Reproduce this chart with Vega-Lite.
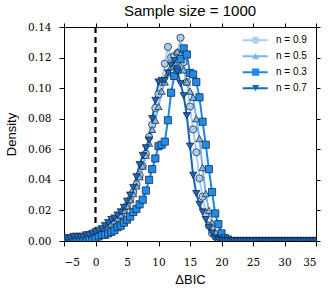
{
"$schema": "https://vega.github.io/schema/vega-lite/v6.json",
"width": 252, "height": 214,
"autosize": {"type": "none"},
"padding": {"left": 64, "top": 27, "right": 16, "bottom": 55},
"background": "white",
"title": {"text": "Sample size = 1000", "font": "Liberation Sans", "fontSize": 15, "fontWeight": "normal", "color": "black", "offset": 3},
"config": {
  "view": {"stroke": "black", "strokeWidth": 1},
  "axis": {"grid": false, "domain": false, "tickColor": "black", "tickSize": 5, "tickWidth": 1, "labelFont": "DejaVu Serif", "labelFontSize": 10.5, "labelColor": "black", "titleFont": "Liberation Sans", "titleFontSize": 13, "titleFontWeight": "normal", "titleColor": "black"}
},
"datasets": {"d": [
{"x":-5,"y":0.001,"n":"n = 0.9"},{"x":-4.5,"y":0.001,"n":"n = 0.9"},{"x":-4,"y":0.001,"n":"n = 0.9"},{"x":-3.5,"y":0.002,"n":"n = 0.9"},{"x":-3,"y":0.002,"n":"n = 0.9"},{"x":-2.5,"y":0.002,"n":"n = 0.9"},{"x":-2,"y":0.002,"n":"n = 0.9"},{"x":-1.5,"y":0.003,"n":"n = 0.9"},{"x":-1,"y":0.003,"n":"n = 0.9"},{"x":-0.5,"y":0.004,"n":"n = 0.9"},{"x":0,"y":0.004,"n":"n = 0.9"},{"x":0.5,"y":0.005,"n":"n = 0.9"},{"x":1,"y":0.006,"n":"n = 0.9"},{"x":1.5,"y":0.007,"n":"n = 0.9"},{"x":2,"y":0.009,"n":"n = 0.9"},{"x":2.5,"y":0.010,"n":"n = 0.9"},{"x":3,"y":0.012,"n":"n = 0.9"},{"x":3.5,"y":0.014,"n":"n = 0.9"},{"x":4,"y":0.017,"n":"n = 0.9"},{"x":4.5,"y":0.020,"n":"n = 0.9"},{"x":5,"y":0.023,"n":"n = 0.9"},{"x":5.5,"y":0.027,"n":"n = 0.9"},{"x":6,"y":0.032,"n":"n = 0.9"},{"x":6.5,"y":0.037,"n":"n = 0.9"},{"x":7,"y":0.043,"n":"n = 0.9"},{"x":7.5,"y":0.049,"n":"n = 0.9"},{"x":8,"y":0.057,"n":"n = 0.9"},{"x":8.5,"y":0.068,"n":"n = 0.9"},{"x":9,"y":0.076,"n":"n = 0.9"},{"x":9.5,"y":0.087,"n":"n = 0.9"},{"x":10,"y":0.096,"n":"n = 0.9"},{"x":10.5,"y":0.104,"n":"n = 0.9"},{"x":11,"y":0.116,"n":"n = 0.9"},{"x":11.5,"y":0.127,"n":"n = 0.9"},{"x":12,"y":0.120,"n":"n = 0.9"},{"x":12.5,"y":0.121,"n":"n = 0.9"},{"x":13,"y":0.123,"n":"n = 0.9"},{"x":13.5,"y":0.133,"n":"n = 0.9"},{"x":14,"y":0.117,"n":"n = 0.9"},{"x":14.5,"y":0.104,"n":"n = 0.9"},{"x":15,"y":0.088,"n":"n = 0.9"},{"x":15.5,"y":0.073,"n":"n = 0.9"},{"x":16,"y":0.058,"n":"n = 0.9"},{"x":16.5,"y":0.041,"n":"n = 0.9"},{"x":17,"y":0.029,"n":"n = 0.9"},{"x":17.5,"y":0.018,"n":"n = 0.9"},{"x":18,"y":0.010,"n":"n = 0.9"},{"x":18.5,"y":0.005,"n":"n = 0.9"},{"x":19,"y":0.003,"n":"n = 0.9"},{"x":19.5,"y":0.001,"n":"n = 0.9"},{"x":20,"y":0.0005,"n":"n = 0.9"},{"x":20.5,"y":0,"n":"n = 0.9"},{"x":21,"y":0,"n":"n = 0.9"},{"x":21.5,"y":0,"n":"n = 0.9"},{"x":22,"y":0,"n":"n = 0.9"},{"x":22.5,"y":0,"n":"n = 0.9"},{"x":23,"y":0,"n":"n = 0.9"},{"x":23.5,"y":0,"n":"n = 0.9"},{"x":24,"y":0,"n":"n = 0.9"},{"x":24.5,"y":0,"n":"n = 0.9"},{"x":25,"y":0,"n":"n = 0.9"},{"x":25.5,"y":0,"n":"n = 0.9"},{"x":26,"y":0,"n":"n = 0.9"},{"x":26.5,"y":0,"n":"n = 0.9"},{"x":27,"y":0,"n":"n = 0.9"},{"x":27.5,"y":0,"n":"n = 0.9"},{"x":28,"y":0,"n":"n = 0.9"},{"x":28.5,"y":0,"n":"n = 0.9"},{"x":29,"y":0,"n":"n = 0.9"},{"x":29.5,"y":0,"n":"n = 0.9"},{"x":30,"y":0,"n":"n = 0.9"},{"x":30.5,"y":0,"n":"n = 0.9"},{"x":31,"y":0,"n":"n = 0.9"},{"x":31.5,"y":0,"n":"n = 0.9"},{"x":32,"y":0,"n":"n = 0.9"},{"x":32.5,"y":0,"n":"n = 0.9"},{"x":33,"y":0,"n":"n = 0.9"},{"x":33.5,"y":0,"n":"n = 0.9"},{"x":34,"y":0,"n":"n = 0.9"},{"x":34.5,"y":0,"n":"n = 0.9"},{"x":35,"y":0,"n":"n = 0.9"},
{"x":-5,"y":0.001,"n":"n = 0.5"},{"x":-4.5,"y":0.001,"n":"n = 0.5"},{"x":-4,"y":0.002,"n":"n = 0.5"},{"x":-3.5,"y":0.002,"n":"n = 0.5"},{"x":-3,"y":0.002,"n":"n = 0.5"},{"x":-2.5,"y":0.002,"n":"n = 0.5"},{"x":-2,"y":0.003,"n":"n = 0.5"},{"x":-1.5,"y":0.003,"n":"n = 0.5"},{"x":-1,"y":0.003,"n":"n = 0.5"},{"x":-0.5,"y":0.004,"n":"n = 0.5"},{"x":0,"y":0.004,"n":"n = 0.5"},{"x":0.5,"y":0.005,"n":"n = 0.5"},{"x":1,"y":0.006,"n":"n = 0.5"},{"x":1.5,"y":0.008,"n":"n = 0.5"},{"x":2,"y":0.009,"n":"n = 0.5"},{"x":2.5,"y":0.011,"n":"n = 0.5"},{"x":3,"y":0.013,"n":"n = 0.5"},{"x":3.5,"y":0.015,"n":"n = 0.5"},{"x":4,"y":0.017,"n":"n = 0.5"},{"x":4.5,"y":0.020,"n":"n = 0.5"},{"x":5,"y":0.023,"n":"n = 0.5"},{"x":5.5,"y":0.027,"n":"n = 0.5"},{"x":6,"y":0.031,"n":"n = 0.5"},{"x":6.5,"y":0.036,"n":"n = 0.5"},{"x":7,"y":0.042,"n":"n = 0.5"},{"x":7.5,"y":0.049,"n":"n = 0.5"},{"x":8,"y":0.056,"n":"n = 0.5"},{"x":8.5,"y":0.064,"n":"n = 0.5"},{"x":9,"y":0.073,"n":"n = 0.5"},{"x":9.5,"y":0.079,"n":"n = 0.5"},{"x":10,"y":0.088,"n":"n = 0.5"},{"x":10.5,"y":0.098,"n":"n = 0.5"},{"x":11,"y":0.104,"n":"n = 0.5"},{"x":11.5,"y":0.110,"n":"n = 0.5"},{"x":12,"y":0.114,"n":"n = 0.5"},{"x":12.5,"y":0.117,"n":"n = 0.5"},{"x":13,"y":0.124,"n":"n = 0.5"},{"x":13.5,"y":0.122,"n":"n = 0.5"},{"x":14,"y":0.112,"n":"n = 0.5"},{"x":14.5,"y":0.104,"n":"n = 0.5"},{"x":15,"y":0.098,"n":"n = 0.5"},{"x":15.5,"y":0.094,"n":"n = 0.5"},{"x":16,"y":0.080,"n":"n = 0.5"},{"x":16.5,"y":0.067,"n":"n = 0.5"},{"x":17,"y":0.048,"n":"n = 0.5"},{"x":17.5,"y":0.031,"n":"n = 0.5"},{"x":18,"y":0.020,"n":"n = 0.5"},{"x":18.5,"y":0.012,"n":"n = 0.5"},{"x":19,"y":0.006,"n":"n = 0.5"},{"x":19.5,"y":0.003,"n":"n = 0.5"},{"x":20,"y":0.001,"n":"n = 0.5"},{"x":20.5,"y":0,"n":"n = 0.5"},{"x":21,"y":0,"n":"n = 0.5"},{"x":21.5,"y":0,"n":"n = 0.5"},{"x":22,"y":0,"n":"n = 0.5"},{"x":22.5,"y":0,"n":"n = 0.5"},{"x":23,"y":0,"n":"n = 0.5"},{"x":23.5,"y":0,"n":"n = 0.5"},{"x":24,"y":0,"n":"n = 0.5"},{"x":24.5,"y":0,"n":"n = 0.5"},{"x":25,"y":0,"n":"n = 0.5"},{"x":25.5,"y":0,"n":"n = 0.5"},{"x":26,"y":0,"n":"n = 0.5"},{"x":26.5,"y":0,"n":"n = 0.5"},{"x":27,"y":0,"n":"n = 0.5"},{"x":27.5,"y":0,"n":"n = 0.5"},{"x":28,"y":0,"n":"n = 0.5"},{"x":28.5,"y":0,"n":"n = 0.5"},{"x":29,"y":0,"n":"n = 0.5"},{"x":29.5,"y":0,"n":"n = 0.5"},{"x":30,"y":0,"n":"n = 0.5"},{"x":30.5,"y":0,"n":"n = 0.5"},{"x":31,"y":0,"n":"n = 0.5"},{"x":31.5,"y":0,"n":"n = 0.5"},{"x":32,"y":0,"n":"n = 0.5"},{"x":32.5,"y":0,"n":"n = 0.5"},{"x":33,"y":0,"n":"n = 0.5"},{"x":33.5,"y":0,"n":"n = 0.5"},{"x":34,"y":0,"n":"n = 0.5"},{"x":34.5,"y":0,"n":"n = 0.5"},{"x":35,"y":0,"n":"n = 0.5"},
{"x":-5,"y":0.001,"n":"n = 0.3"},{"x":-4.5,"y":0.001,"n":"n = 0.3"},{"x":-4,"y":0.001,"n":"n = 0.3"},{"x":-3.5,"y":0.001,"n":"n = 0.3"},{"x":-3,"y":0.001,"n":"n = 0.3"},{"x":-2.5,"y":0.001,"n":"n = 0.3"},{"x":-2,"y":0.001,"n":"n = 0.3"},{"x":-1.5,"y":0.001,"n":"n = 0.3"},{"x":-1,"y":0.002,"n":"n = 0.3"},{"x":-0.5,"y":0.002,"n":"n = 0.3"},{"x":0,"y":0.002,"n":"n = 0.3"},{"x":0.5,"y":0.003,"n":"n = 0.3"},{"x":1,"y":0.004,"n":"n = 0.3"},{"x":1.5,"y":0.004,"n":"n = 0.3"},{"x":2,"y":0.005,"n":"n = 0.3"},{"x":2.5,"y":0.006,"n":"n = 0.3"},{"x":3,"y":0.007,"n":"n = 0.3"},{"x":3.5,"y":0.009,"n":"n = 0.3"},{"x":4,"y":0.010,"n":"n = 0.3"},{"x":4.5,"y":0.012,"n":"n = 0.3"},{"x":5,"y":0.014,"n":"n = 0.3"},{"x":5.5,"y":0.016,"n":"n = 0.3"},{"x":6,"y":0.019,"n":"n = 0.3"},{"x":6.5,"y":0.021,"n":"n = 0.3"},{"x":7,"y":0.024,"n":"n = 0.3"},{"x":7.5,"y":0.027,"n":"n = 0.3"},{"x":8,"y":0.033,"n":"n = 0.3"},{"x":8.5,"y":0.040,"n":"n = 0.3"},{"x":9,"y":0.047,"n":"n = 0.3"},{"x":9.5,"y":0.054,"n":"n = 0.3"},{"x":10,"y":0.062,"n":"n = 0.3"},{"x":10.5,"y":0.063,"n":"n = 0.3"},{"x":11,"y":0.065,"n":"n = 0.3"},{"x":11.5,"y":0.079,"n":"n = 0.3"},{"x":12,"y":0.097,"n":"n = 0.3"},{"x":12.5,"y":0.108,"n":"n = 0.3"},{"x":13,"y":0.112,"n":"n = 0.3"},{"x":13.5,"y":0.119,"n":"n = 0.3"},{"x":14,"y":0.126,"n":"n = 0.3"},{"x":14.5,"y":0.122,"n":"n = 0.3"},{"x":15,"y":0.110,"n":"n = 0.3"},{"x":15.5,"y":0.109,"n":"n = 0.3"},{"x":16,"y":0.104,"n":"n = 0.3"},{"x":16.5,"y":0.094,"n":"n = 0.3"},{"x":17,"y":0.078,"n":"n = 0.3"},{"x":17.5,"y":0.063,"n":"n = 0.3"},{"x":18,"y":0.047,"n":"n = 0.3"},{"x":18.5,"y":0.032,"n":"n = 0.3"},{"x":19,"y":0.018,"n":"n = 0.3"},{"x":19.5,"y":0.011,"n":"n = 0.3"},{"x":20,"y":0.005,"n":"n = 0.3"},{"x":20.5,"y":0.002,"n":"n = 0.3"},{"x":21,"y":0.001,"n":"n = 0.3"},{"x":21.5,"y":0,"n":"n = 0.3"},{"x":22,"y":0,"n":"n = 0.3"},{"x":22.5,"y":0,"n":"n = 0.3"},{"x":23,"y":0,"n":"n = 0.3"},{"x":23.5,"y":0,"n":"n = 0.3"},{"x":24,"y":0,"n":"n = 0.3"},{"x":24.5,"y":0,"n":"n = 0.3"},{"x":25,"y":0,"n":"n = 0.3"},{"x":25.5,"y":0,"n":"n = 0.3"},{"x":26,"y":0,"n":"n = 0.3"},{"x":26.5,"y":0,"n":"n = 0.3"},{"x":27,"y":0,"n":"n = 0.3"},{"x":27.5,"y":0,"n":"n = 0.3"},{"x":28,"y":0,"n":"n = 0.3"},{"x":28.5,"y":0,"n":"n = 0.3"},{"x":29,"y":0,"n":"n = 0.3"},{"x":29.5,"y":0,"n":"n = 0.3"},{"x":30,"y":0,"n":"n = 0.3"},{"x":30.5,"y":0,"n":"n = 0.3"},{"x":31,"y":0,"n":"n = 0.3"},{"x":31.5,"y":0,"n":"n = 0.3"},{"x":32,"y":0,"n":"n = 0.3"},{"x":32.5,"y":0,"n":"n = 0.3"},{"x":33,"y":0,"n":"n = 0.3"},{"x":33.5,"y":0,"n":"n = 0.3"},{"x":34,"y":0,"n":"n = 0.3"},{"x":34.5,"y":0,"n":"n = 0.3"},{"x":35,"y":0,"n":"n = 0.3"},
{"x":-5,"y":0.002,"n":"n = 0.7"},{"x":-4.5,"y":0.002,"n":"n = 0.7"},{"x":-4,"y":0.002,"n":"n = 0.7"},{"x":-3.5,"y":0.003,"n":"n = 0.7"},{"x":-3,"y":0.003,"n":"n = 0.7"},{"x":-2.5,"y":0.003,"n":"n = 0.7"},{"x":-2,"y":0.003,"n":"n = 0.7"},{"x":-1.5,"y":0.004,"n":"n = 0.7"},{"x":-1,"y":0.004,"n":"n = 0.7"},{"x":-0.5,"y":0.005,"n":"n = 0.7"},{"x":0,"y":0.006,"n":"n = 0.7"},{"x":0.5,"y":0.007,"n":"n = 0.7"},{"x":1,"y":0.008,"n":"n = 0.7"},{"x":1.5,"y":0.010,"n":"n = 0.7"},{"x":2,"y":0.012,"n":"n = 0.7"},{"x":2.5,"y":0.014,"n":"n = 0.7"},{"x":3,"y":0.015,"n":"n = 0.7"},{"x":3.5,"y":0.017,"n":"n = 0.7"},{"x":4,"y":0.019,"n":"n = 0.7"},{"x":4.5,"y":0.022,"n":"n = 0.7"},{"x":5,"y":0.026,"n":"n = 0.7"},{"x":5.5,"y":0.030,"n":"n = 0.7"},{"x":6,"y":0.035,"n":"n = 0.7"},{"x":6.5,"y":0.042,"n":"n = 0.7"},{"x":7,"y":0.050,"n":"n = 0.7"},{"x":7.5,"y":0.056,"n":"n = 0.7"},{"x":8,"y":0.061,"n":"n = 0.7"},{"x":8.5,"y":0.066,"n":"n = 0.7"},{"x":9,"y":0.080,"n":"n = 0.7"},{"x":9.5,"y":0.092,"n":"n = 0.7"},{"x":10,"y":0.104,"n":"n = 0.7"},{"x":10.5,"y":0.105,"n":"n = 0.7"},{"x":11,"y":0.105,"n":"n = 0.7"},{"x":11.5,"y":0.110,"n":"n = 0.7"},{"x":12,"y":0.115,"n":"n = 0.7"},{"x":12.5,"y":0.118,"n":"n = 0.7"},{"x":13,"y":0.111,"n":"n = 0.7"},{"x":13.5,"y":0.103,"n":"n = 0.7"},{"x":14,"y":0.095,"n":"n = 0.7"},{"x":14.5,"y":0.082,"n":"n = 0.7"},{"x":15,"y":0.062,"n":"n = 0.7"},{"x":15.5,"y":0.043,"n":"n = 0.7"},{"x":16,"y":0.031,"n":"n = 0.7"},{"x":16.5,"y":0.024,"n":"n = 0.7"},{"x":17,"y":0.019,"n":"n = 0.7"},{"x":17.5,"y":0.014,"n":"n = 0.7"},{"x":18,"y":0.009,"n":"n = 0.7"},{"x":18.5,"y":0.005,"n":"n = 0.7"},{"x":19,"y":0.002,"n":"n = 0.7"},{"x":19.5,"y":0.001,"n":"n = 0.7"},{"x":20,"y":0.0005,"n":"n = 0.7"},{"x":20.5,"y":0,"n":"n = 0.7"},{"x":21,"y":0,"n":"n = 0.7"},{"x":21.5,"y":0,"n":"n = 0.7"},{"x":22,"y":0,"n":"n = 0.7"},{"x":22.5,"y":0,"n":"n = 0.7"},{"x":23,"y":0,"n":"n = 0.7"},{"x":23.5,"y":0,"n":"n = 0.7"},{"x":24,"y":0,"n":"n = 0.7"},{"x":24.5,"y":0,"n":"n = 0.7"},{"x":25,"y":0,"n":"n = 0.7"},{"x":25.5,"y":0,"n":"n = 0.7"},{"x":26,"y":0,"n":"n = 0.7"},{"x":26.5,"y":0,"n":"n = 0.7"},{"x":27,"y":0,"n":"n = 0.7"},{"x":27.5,"y":0,"n":"n = 0.7"},{"x":28,"y":0,"n":"n = 0.7"},{"x":28.5,"y":0,"n":"n = 0.7"},{"x":29,"y":0,"n":"n = 0.7"},{"x":29.5,"y":0,"n":"n = 0.7"},{"x":30,"y":0,"n":"n = 0.7"},{"x":30.5,"y":0,"n":"n = 0.7"},{"x":31,"y":0,"n":"n = 0.7"},{"x":31.5,"y":0,"n":"n = 0.7"},{"x":32,"y":0,"n":"n = 0.7"},{"x":32.5,"y":0,"n":"n = 0.7"},{"x":33,"y":0,"n":"n = 0.7"},{"x":33.5,"y":0,"n":"n = 0.7"},{"x":34,"y":0,"n":"n = 0.7"},{"x":34.5,"y":0,"n":"n = 0.7"},{"x":35,"y":0,"n":"n = 0.7"}
]},
"resolve": {"axis": {"x": "independent", "y": "independent"}},
"layer": [
  {
    "data": {"values": [{"x": 0}]},
    "mark": {"type": "rule", "strokeDash": [6, 4], "strokeWidth": 2.2, "color": "black"},
    "encoding": {
      "x": {"field": "x", "type": "quantitative", "scale": {"domain": [-5, 35], "nice": false}, "axis": null}
    }
  },
  {
    "data": {"name": "d"},
    "mark": {"type": "line", "strokeWidth": 2, "clip": true},
    "encoding": {
      "x": {"field": "x", "type": "quantitative", "scale": {"domain": [-5, 35], "nice": false},
            "axis": {"orient": "top", "labels": false, "title": null, "values": [-5,0,5,10,15,20,25,30,35], "tickSize": 4}},
      "y": {"field": "y", "type": "quantitative", "scale": {"domain": [0, 0.14], "nice": false, "zero": false},
            "axis": {"orient": "right", "labels": false, "title": null, "values": [0,0.02,0.04,0.06,0.08,0.1,0.12,0.14], "tickSize": 4}},
      "stroke": {"field": "n", "type": "nominal", "sort": ["n = 0.9", "n = 0.5", "n = 0.3", "n = 0.7"],
                 "scale": {"range": ["#a6cdf2", "#75b2ef", "#1b87ee", "#1464c0"]},
                 "legend": {"title": null, "orient": "none", "legendX": 177.7, "legendY": 5.5, "symbolType": "stroke", "symbolSize": 625, "symbolStrokeWidth": 2, "clipHeight": 15.3, "rowPadding": 0, "padding": 0, "labelOffset": 7.3, "labelFont": "Liberation Sans", "labelFontSize": 10, "labelColor": "black"}}
    }
  },
  {
    "data": {"name": "d"},
    "mark": {"type": "point", "filled": true, "size": 52, "stroke": "#1a2633", "strokeWidth": 0.75, "opacity": 1, "clip": true},
    "encoding": {
      "x": {"field": "x", "type": "quantitative", "scale": {"domain": [-5, 35], "nice": false},
            "axis": {"orient": "bottom", "values": [-5,0,5,10,15,20,25,30,35], "format": "d", "labelFont": "DejaVu Serif", "labelFontSize": 10.5, "labelPadding": 11, "title": "ΔBIC", "titleFont": "Liberation Sans", "titleFontSize": 13, "titlePadding": 6}},
      "y": {"field": "y", "type": "quantitative", "scale": {"domain": [0, 0.14], "nice": false, "zero": false},
            "axis": {"orient": "left", "values": [0,0.02,0.04,0.06,0.08,0.1,0.12,0.14], "format": ".2f", "labelFont": "DejaVu Serif", "labelFontSize": 10.5, "labelPadding": 8, "title": "Density", "titleFont": "Liberation Sans", "titleFontSize": 13, "titlePadding": 9}},
      "fill": {"field": "n", "type": "nominal", "scale": {"domain": ["n = 0.9", "n = 0.5", "n = 0.3", "n = 0.7"], "range": ["#a9cff2", "#7db9f0", "#1f8cf0", "#1766c4"]},
               "legend": {"title": null, "orient": "none", "legendX": 177.7, "legendY": 5.5, "symbolSize": 52, "symbolOffset": 8.9, "symbolStrokeColor": "#1a2633", "symbolStrokeWidth": 0.75, "clipHeight": 15.3, "rowPadding": 0, "padding": 0, "labelExpr": "''", "labelFontSize": 10, "labelOffset": 7.3}},
      "shape": {"field": "n", "type": "nominal", "scale": {"domain": ["n = 0.9", "n = 0.5", "n = 0.3", "n = 0.7"], "range": ["circle", "triangle-up", "square", "triangle-down"]},
               "legend": {"title": null, "orient": "none", "legendX": 177.7, "legendY": 5.5, "symbolSize": 52, "symbolOffset": 8.9, "symbolStrokeColor": "#1a2633", "symbolStrokeWidth": 0.75, "clipHeight": 15.3, "rowPadding": 0, "padding": 0, "labelExpr": "''", "labelFontSize": 10, "labelOffset": 7.3}}
    }
  }
]
}
